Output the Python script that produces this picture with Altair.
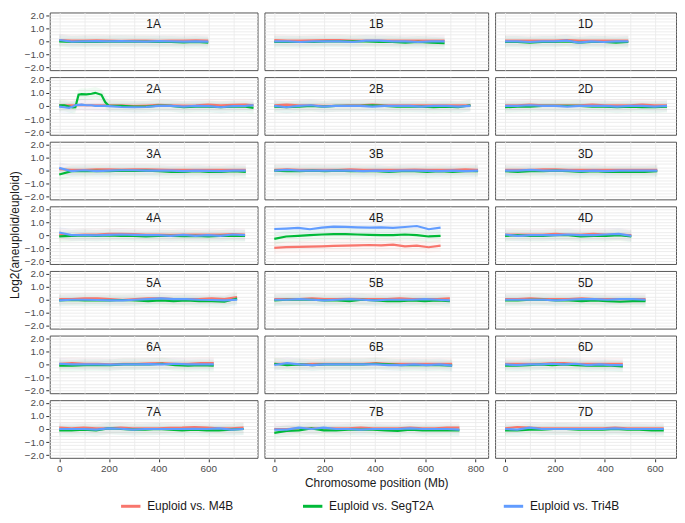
import altair as alt
import pandas as pd
import numpy as np

SERIES = ["Euploid vs. M4B", "Euploid vs. SegT2A", "Euploid vs. Tri4B"]
COLORS = ["#F8766D", "#00BA38", "#619CFF"]

COL_A = ["1A", "2A", "3A", "4A", "5A", "6A", "7A"]
COL_B = ["1B", "2B", "3B", "4B", "5B", "6B", "7B"]
COL_D = ["1D", "2D", "3D", "4D", "5D", "6D", "7D"]

LENGTHS = {
    "1A": 600, "2A": 782, "3A": 751, "4A": 748, "5A": 716, "6A": 622, "7A": 742,
    "1B": 677, "2B": 780, "3B": 810, "4B": 661, "5B": 698, "6B": 707, "7B": 736,
    "1D": 494, "2D": 649, "3D": 610, "4D": 506, "5D": 563, "6D": 472, "7D": 636,
}

# explicit positions for 2A (green bump); others are evenly spaced along the chromosome
POS_2A = [0, 20, 40, 55, 65, 78, 90, 110, 130, 145, 170, 185, 200, 250, 300, 350,
          400, 450, 500, 550, 600, 650, 700, 750, 782]

M4B = {
    "1A": [0.1, 0.05, 0.05, 0.08, 0.05, 0.03, 0.05, 0.05, 0.03, 0.05, 0.05, 0.08, 0.05],
    "2A": [0.05, 0.05, 0.05, 0.05, 0.05, 0.05, 0.08, 0.05, 0.05, 0.05, 0.05, 0.05, 0.05,
           0.05, 0.0, 0.03, 0.08, 0.05, 0.03, 0.05, 0.1, 0.05, 0.08, 0.1, 0.05],
    "3A": [0.1, 0.05, 0.05, 0.1, 0.1, 0.08, 0.1, 0.1, 0.08, 0.05, 0.05, 0.05, 0.05, 0.05, 0.05, 0.05],
    "4A": [0.05, 0.0, 0.05, 0.05, 0.1, 0.1, 0.08, 0.05, 0.05, 0.03, 0.05, 0.05, 0.05, 0.05, 0.08, 0.05],
    "5A": [0.05, 0.05, 0.1, 0.1, 0.05, 0.0, 0.05, 0.1, 0.1, 0.05, 0.05, 0.05, 0.1, 0.05, 0.2],
    "6A": [0.05, 0.1, 0.05, 0.05, 0.0, 0.05, 0.05, 0.08, 0.1, 0.05, 0.05, 0.1, 0.1],
    "7A": [0.1, 0.05, 0.1, 0.05, 0.05, 0.1, 0.05, 0.05, 0.05, 0.08, 0.1, 0.15, 0.1, 0.05, 0.05, 0.1],
    "1B": [0.1, 0.05, 0.05, 0.08, 0.1, 0.1, 0.05, 0.05, 0.05, 0.05, 0.05, 0.05, 0.05, 0.05],
    "2B": [0.05, 0.1, 0.05, 0.05, 0.0, 0.0, 0.05, 0.05, 0.1, 0.05, 0.05, 0.05, 0.05, 0.05, 0.05, 0.05, 0.05],
    "3B": [0.05, 0.1, 0.05, 0.05, 0.05, 0.05, 0.1, 0.05, 0.05, 0.05, 0.05, 0.08, 0.05, 0.05, 0.05, 0.1, 0.05],
    "4B": [-0.97, -0.92, -0.9, -0.88, -0.85, -0.82, -0.8, -0.78, -0.75, -0.78, -0.72, -0.85, -0.8, -0.92, -0.8],
    "5B": [0.05, 0.05, 0.05, 0.1, 0.05, 0.05, 0.08, 0.05, 0.05, 0.05, 0.1, 0.05, 0.05, 0.05, 0.1],
    "6B": [0.05, 0.05, 0.0, 0.05, 0.05, 0.05, 0.05, 0.05, 0.1, 0.05, 0.05, 0.05, 0.05, 0.05, 0.05],
    "7B": [0.0, 0.0, 0.05, 0.05, 0.05, 0.05, 0.05, 0.1, 0.05, 0.05, 0.05, 0.1, 0.05, 0.05, 0.1, 0.1],
    "1D": [0.05, 0.05, 0.05, 0.05, 0.05, 0.1, 0.05, 0.05, 0.05, 0.05, 0.05],
    "2D": [0.05, 0.05, 0.1, 0.05, 0.05, 0.05, 0.05, 0.1, 0.05, 0.05, 0.05, 0.1, 0.05, 0.05],
    "3D": [0.05, 0.05, 0.05, 0.1, 0.1, 0.05, 0.05, 0.05, 0.05, 0.05, 0.05, 0.05, 0.05],
    "4D": [0.05, 0.05, 0.05, 0.05, 0.1, 0.05, 0.05, 0.1, 0.05, 0.05, 0.0],
    "5D": [0.05, 0.05, 0.1, 0.05, 0.05, 0.05, 0.1, 0.05, 0.05, 0.05, 0.05, 0.05],
    "6D": [0.05, 0.05, 0.05, 0.05, 0.1, 0.1, 0.05, 0.05, 0.05, 0.05, 0.05],
    "7D": [0.05, 0.15, 0.1, 0.05, 0.05, 0.05, 0.05, 0.05, 0.05, 0.1, 0.05, 0.05, 0.05, 0.05],
}

SEGT2A = {
    "1A": [0.0, -0.05, -0.03, -0.05, -0.02, 0.0, -0.03, -0.02, -0.05, -0.05, -0.08, -0.05, -0.1],
    "2A": [0.05, 0.05, -0.05, -0.12, -0.1, 0.85, 0.9, 0.88, 0.93, 1.0, 0.85, 0.3, 0.0,
           0.0, -0.05, -0.05, 0.02, 0.0, -0.1, -0.05, -0.05, -0.1, -0.05, -0.05, -0.15],
    "3A": [-0.3, -0.05, -0.05, -0.02, -0.05, 0.0, -0.02, 0.0, -0.05, -0.1, -0.1, -0.05, -0.1, -0.1, -0.05, -0.1],
    "4A": [-0.1, -0.05, -0.02, -0.05, -0.02, -0.05, -0.05, -0.1, -0.05, -0.05, -0.08, -0.05, -0.1, -0.05, -0.05, -0.05],
    "5A": [-0.05, -0.02, -0.05, -0.05, -0.05, -0.02, -0.05, -0.1, -0.05, -0.1, -0.05, -0.1, -0.1, -0.15, 0.1],
    "6A": [-0.1, -0.1, -0.05, -0.05, -0.05, 0.0, 0.0, 0.0, 0.05, -0.05, -0.1, -0.05, -0.1],
    "7A": [-0.1, -0.1, -0.05, -0.1, 0.05, 0.0, -0.05, -0.05, 0.0, -0.05, -0.1, -0.05, -0.1, -0.1, -0.05, 0.0],
    "1B": [-0.05, -0.05, -0.05, -0.05, 0.0, 0.0, 0.0, 0.0, -0.05, -0.05, -0.1, -0.05, -0.1, -0.15],
    "2B": [-0.05, -0.1, -0.05, 0.0, -0.05, 0.0, 0.0, 0.0, 0.05, 0.0, -0.05, -0.05, -0.05, -0.1, -0.05, -0.1, 0.05],
    "3B": [0.0, -0.05, -0.05, 0.0, -0.05, 0.0, -0.05, -0.05, -0.05, -0.1, -0.05, -0.05, -0.1, -0.05, -0.1, -0.05, -0.05],
    "4B": [-0.28, -0.1, -0.05, 0.0, 0.05, 0.08, 0.08, 0.05, 0.02, 0.0, 0.0, 0.05, 0.0, -0.1, -0.05],
    "5B": [-0.05, 0.0, 0.0, 0.0, -0.05, -0.05, -0.1, 0.0, -0.05, -0.1, -0.1, -0.05, -0.1, -0.05, -0.1],
    "6B": [0.05, -0.05, 0.0, -0.05, 0.0, 0.0, 0.0, 0.0, 0.05, 0.0, -0.05, -0.05, -0.05, -0.05, -0.1],
    "7B": [-0.3, -0.15, -0.1, 0.05, -0.1, -0.1, -0.05, -0.05, -0.05, -0.1, -0.15, -0.05, -0.1, -0.1, -0.1, -0.1],
    "1D": [-0.05, -0.05, -0.1, -0.05, -0.05, 0.0, -0.1, -0.05, -0.05, -0.1, -0.05],
    "2D": [-0.1, -0.05, -0.05, 0.0, 0.0, 0.0, 0.0, -0.05, -0.05, -0.1, -0.05, -0.1, -0.1, -0.05],
    "3D": [-0.05, -0.1, -0.05, -0.05, 0.0, -0.05, -0.1, -0.05, -0.1, -0.1, -0.1, -0.1, -0.05],
    "4D": [-0.05, 0.0, -0.05, -0.05, 0.0, 0.0, -0.1, -0.05, -0.05, 0.0, -0.1],
    "5D": [-0.05, -0.05, 0.0, 0.0, -0.05, -0.05, -0.1, -0.05, -0.1, -0.15, -0.1, -0.1],
    "6D": [-0.1, -0.1, -0.05, 0.0, -0.05, 0.0, -0.05, -0.1, -0.1, -0.1, -0.15],
    "7D": [-0.1, -0.1, -0.05, -0.05, 0.0, 0.0, -0.05, -0.05, -0.05, 0.0, -0.05, -0.05, -0.1, -0.1],
}

TRI4B = {
    "1A": [0.1, -0.02, 0.0, 0.02, 0.0, 0.02, 0.0, -0.02, 0.02, 0.0, -0.02, 0.0, -0.02],
    "2A": [-0.05, -0.1, -0.15, -0.05, 0.05, 0.08, 0.1, 0.05, 0.05, 0.0, 0.0, 0.0, -0.02,
           -0.08, -0.1, -0.08, 0.0, 0.0, -0.05, 0.0, -0.02, -0.1, -0.02, 0.0, 0.05],
    "3A": [0.2, -0.05, 0.02, -0.05, 0.0, 0.02, 0.02, 0.0, 0.0, 0.0, -0.05, 0.0, -0.02, -0.05, 0.0, 0.0],
    "4A": [0.2, 0.0, 0.0, -0.02, 0.02, 0.05, 0.02, 0.0, 0.0, -0.05, 0.02, -0.05, 0.0, -0.05, 0.05, 0.0],
    "5A": [-0.05, 0.0, 0.0, -0.02, -0.05, -0.05, 0.0, 0.05, 0.1, 0.05, 0.05, 0.0, -0.02, -0.05, 0.0],
    "6A": [0.05, 0.0, 0.0, 0.0, -0.02, 0.0, 0.0, 0.02, 0.0, 0.05, 0.0, 0.0, 0.0],
    "7A": [0.0, 0.0, 0.0, -0.05, 0.05, 0.02, -0.05, 0.0, 0.0, 0.0, 0.0, 0.02, 0.0, 0.05, -0.05, 0.0],
    "1B": [0.0, 0.0, -0.05, 0.0, 0.0, 0.0, -0.05, 0.05, 0.05, 0.0, 0.0, -0.05, 0.0, 0.0],
    "2B": [0.0, -0.1, 0.0, 0.05, -0.05, 0.0, 0.0, 0.0, -0.05, 0.0, 0.0, 0.0, -0.05, 0.0, 0.0, -0.05, 0.0],
    "3B": [0.0, 0.05, 0.0, 0.0, 0.0, 0.0, 0.0, -0.05, 0.0, -0.05, 0.0, 0.0, -0.02, -0.05, 0.0, -0.05, 0.0],
    "4B": [0.47, 0.5, 0.55, 0.45, 0.58, 0.65, 0.63, 0.6, 0.58, 0.6, 0.56, 0.62, 0.7, 0.45, 0.58],
    "5B": [0.0, 0.0, 0.05, 0.0, -0.05, 0.0, 0.05, 0.0, -0.05, 0.0, 0.0, 0.0, 0.05, 0.0, -0.05],
    "6B": [-0.05, 0.1, 0.0, -0.05, 0.0, 0.0, 0.0, 0.0, 0.0, -0.05, -0.05, 0.0, -0.05, 0.0, -0.1],
    "7B": [-0.05, -0.05, 0.1, 0.0, 0.1, 0.0, 0.0, -0.05, 0.0, 0.0, 0.0, 0.05, 0.0, 0.0, 0.0, -0.05],
    "1D": [0.0, 0.0, -0.05, 0.0, 0.0, 0.05, -0.1, 0.0, -0.05, 0.0, 0.0],
    "2D": [0.0, 0.0, 0.05, 0.0, 0.0, -0.05, 0.0, 0.0, 0.0, -0.05, 0.0, 0.0, -0.05, 0.0],
    "3D": [0.0, 0.0, 0.05, 0.0, 0.0, 0.0, -0.05, 0.0, -0.05, 0.0, 0.0, 0.0, 0.0],
    "4D": [0.05, -0.05, 0.0, 0.0, 0.0, 0.05, 0.0, 0.0, 0.05, 0.1, -0.05],
    "5D": [0.0, 0.0, 0.0, 0.0, -0.05, 0.0, 0.05, 0.05, 0.0, 0.05, 0.05, 0.0],
    "6D": [0.0, -0.05, 0.0, 0.0, 0.05, 0.0, 0.05, -0.05, 0.0, -0.05, -0.05],
    "7D": [0.0, -0.05, 0.1, 0.0, 0.0, 0.0, 0.0, 0.0, 0.0, 0.05, 0.0, 0.0, 0.0, 0.0],
}

X_DOMAINS = {"A": [-38, 798], "B": [-39, 850], "D": [-40, 685]}
WIDTHS = {"A": 209, "B": 225, "D": 182}
PANEL_H = 58

rows = []
for chrom, L in LENGTHS.items():
    for sname, table in zip(SERIES, [M4B, SEGT2A, TRI4B]):
        vals = table[chrom]
        pos = POS_2A if chrom == "2A" else np.linspace(0, L, len(vals))
        for p, v in zip(pos, vals):
            rows.append({"chrom": chrom, "genome": chrom[1], "pos": float(p),
                         "series": sname, "v": v})
df = pd.DataFrame(rows)

Y_VALUES = [round(-2 + 0.25 * i, 2) for i in range(17)]
Y_LABEL = ("datum.value % 1 === 0 ? (datum.value === 0 ? '0' : "
           "replace(format(datum.value, '.1f'), '-', '\u2212')) : ''")
GRID = "#EBEBEB"
TICK = "#333333"
LBL = "#4D4D4D"

LEGEND = alt.Legend(orient="none", legendX=70, legendY=485,
                    direction="horizontal", columns=3,
                    columnPadding=63, title=None,
                    symbolType="stroke", symbolStrokeWidth=3,
                    symbolSize=380, symbolOpacity=1,
                    labelFontSize=12, labelColor="#1A1A1A", labelOffset=5)


def column(genome, chroms, show_y, x_title):
    sub = df[df["genome"] == genome]
    w = WIDTHS[genome]
    dom = X_DOMAINS[genome]
    xvals = [v for v in range(0, 1000, 100) if v <= dom[1]]
    xaxis_kw = dict(
        values=xvals,
        labelExpr="datum.value % 200 === 0 ? datum.label : ''",
        tickColor={"condition": {"test": "datum.value % 200 === 0", "value": TICK},
                   "value": "transparent"},
        gridColor=GRID, gridWidth=0.9, domain=False, tickSize=3,
        labelFontSize=10, labelColor=LBL, labelPadding=2,
        titleFontSize=12, titleFontWeight="normal", titleColor="#1A1A1A", titlePadding=4,
    )
    if x_title:
        xaxis = alt.Axis(title=x_title, **xaxis_kw)
    else:
        xaxis = alt.Axis(title=None, **xaxis_kw)
    x = alt.X("pos:Q", scale=alt.Scale(domain=dom, nice=False, zero=False), axis=xaxis)

    if show_y:
        yaxis = alt.Axis(values=Y_VALUES, labelExpr=Y_LABEL, title=None,
                         tickColor={"condition": {"test": "datum.value % 1 === 0", "value": TICK},
                                    "value": "transparent"},
                         gridColor=GRID, gridWidth=0.9, domain=False, tickSize=3,
                         labelFontSize=10, labelColor=LBL, labelPadding=2)
    else:
        yaxis = alt.Axis(values=Y_VALUES, labels=False, ticks=False, domain=False,
                         title=None, gridColor=GRID, gridWidth=0.9)
    yscale = alt.Scale(domain=[-2.2, 2.2], nice=False, zero=False)

    base = alt.Chart()
    # faint scatter cloud around each series (own field so its legend stays separate)
    band = base.mark_area(opacity=0.06, interpolate="linear").transform_calculate(
        lo="datum.v - 0.45", hi="datum.v + 0.45", cloud="datum.series"
    ).encode(
        x=x,
        y=alt.Y("lo:Q", scale=yscale, axis=yaxis, stack=None),
        y2="hi:Q",
        fill=alt.Fill("cloud:N", scale=alt.Scale(range=COLORS), legend=None),
    )
    line = base.mark_line(strokeWidth=2.2).encode(
        x=x,
        y=alt.Y("v:Q", scale=yscale, axis=yaxis),
        color=alt.Color("series:N", scale=alt.Scale(domain=SERIES, range=COLORS),
                        legend=LEGEND),
    )
    label = base.mark_text(fontSize=12, color="#1A1A1A", baseline="middle").transform_aggregate(
        n="count()", groupby=["chrom"]
    ).encode(text="chrom:N", x=alt.value(w / 2), y=alt.value(12))

    layered = alt.layer(band, line, label, data=sub).properties(width=w, height=PANEL_H)
    if show_y:
        row = alt.Row("chrom:N", sort=chroms, title="Log2(aneuploid/euploid)",
                      header=alt.Header(labels=False, titleFontSize=12, titleFontWeight="normal",
                                        titleColor="#1A1A1A", titlePadding=-8, labelPadding=0))
    else:
        row = alt.Row("chrom:N", sort=chroms, title=None,
                      header=alt.Header(labels=False, labelPadding=0, titlePadding=0))
    return layered.facet(row=row, spacing=5)


colA = column("A", COL_A, True, None)
colB = column("B", COL_B, False, "Chromosome position (Mb)")
colD = column("D", COL_D, False, None)

chart = alt.hconcat(colA, colB, colD, spacing=5).properties(padding=0).configure(
    font="Liberation Sans"
).configure_view(stroke="#555555", strokeWidth=1).configure_legend(
    labelFont="Liberation Sans"
)

chart.save("out.html", embed_options={"renderer": "svg", "actions": False})
